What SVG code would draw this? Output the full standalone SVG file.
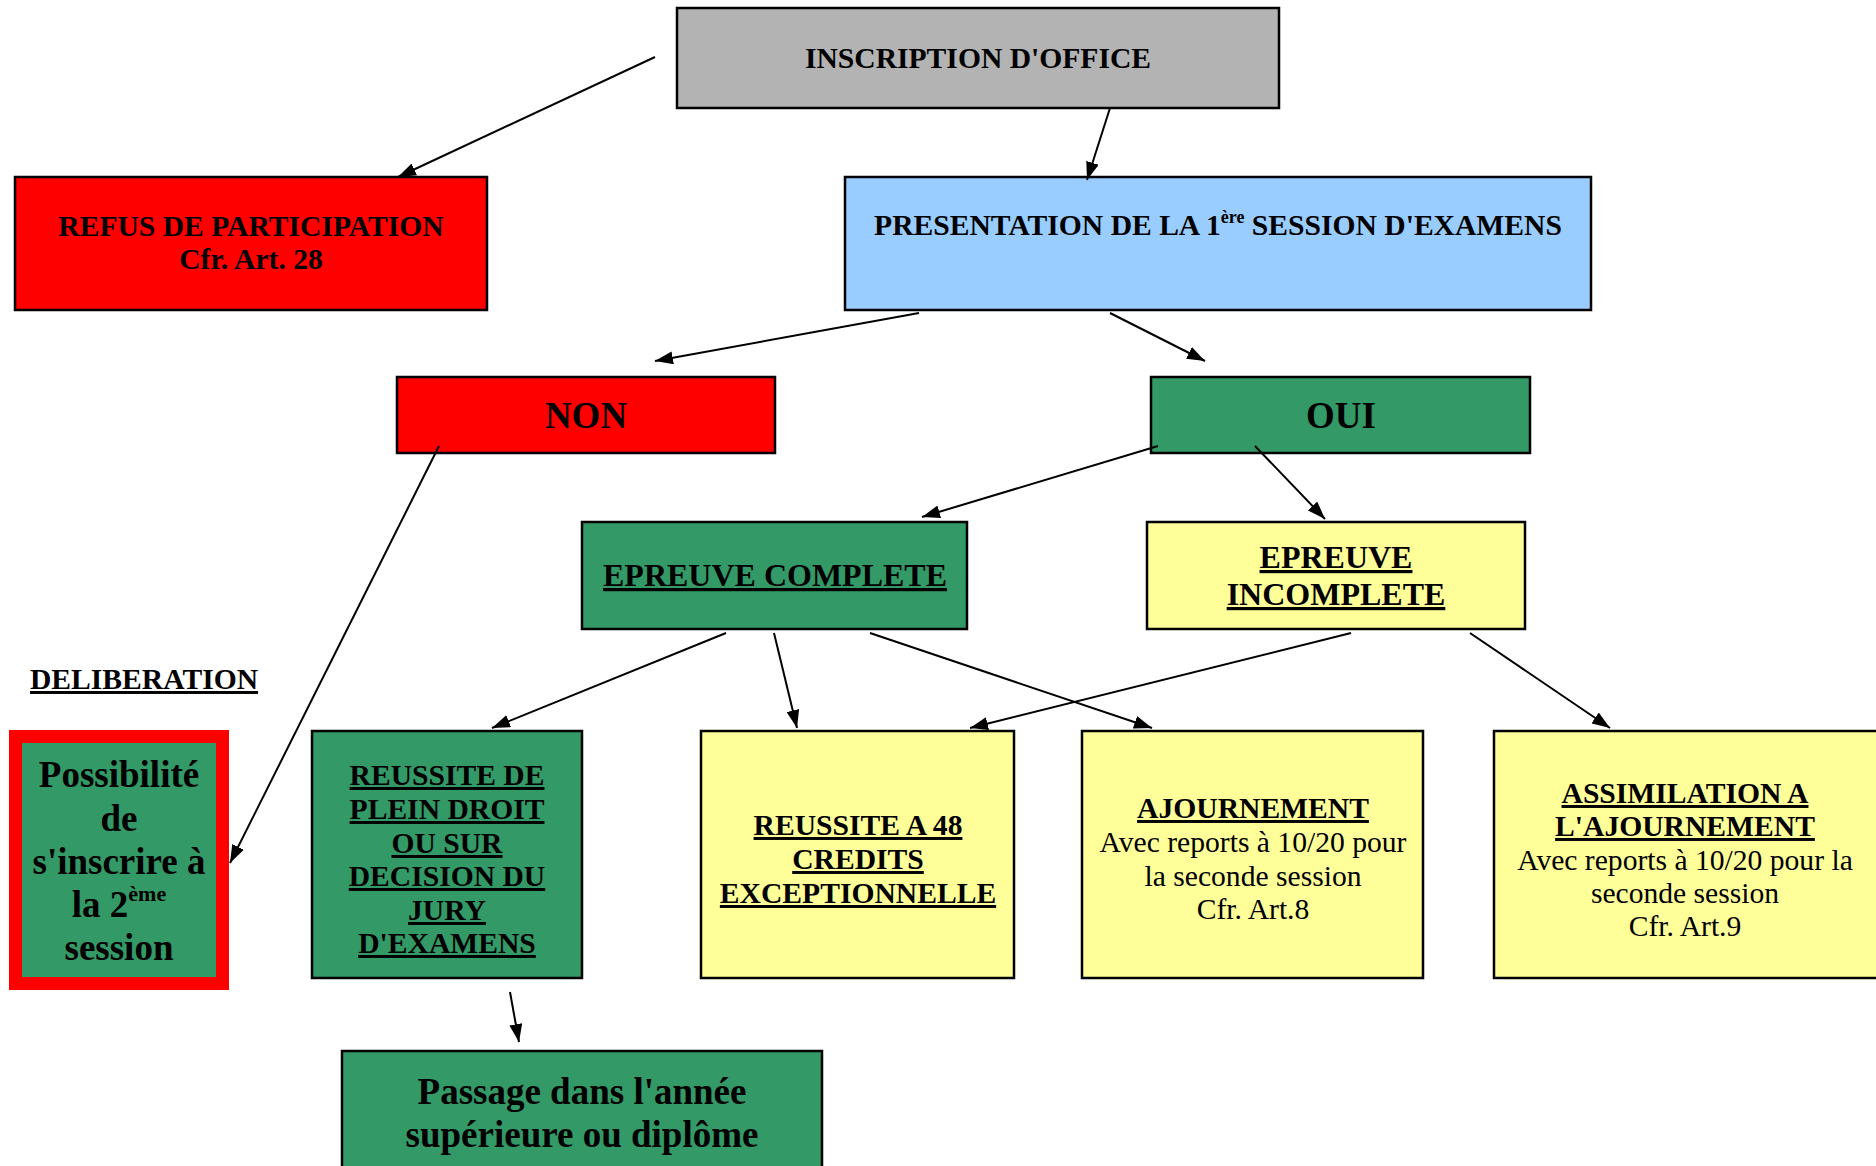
<svg xmlns="http://www.w3.org/2000/svg" width="1876" height="1166" viewBox="0 0 1876 1166">
<defs>
<marker id="ah" viewBox="0 0 18 13" refX="18" refY="6.5" markerWidth="18" markerHeight="13" markerUnits="userSpaceOnUse" orient="auto">
<path d="M0,0 L18,6.5 L0,13 z" fill="#000"/>
</marker>
<style>
.box{stroke:#000;stroke-width:2.5}
.gray{fill:#b3b3b3}.blue{fill:#99ccff}.red{fill:#ff0000}.green{fill:#339966}.yellow{fill:#ffff99}
text{font-family:"Liberation Serif","Times New Roman",serif;fill:#000}
.b{font-weight:bold}
.c{text-anchor:middle}
.s29{font-size:29.6px}.s32{font-size:32px}.s37{font-size:37px}.s36{font-size:37px}
.u{text-decoration:underline;text-decoration-thickness:3px;text-underline-offset:4px}
.conn line{stroke:#000;stroke-width:2;marker-end:url(#ah)}
</style>
</defs>
<rect width="1876" height="1166" fill="#fff"/>

<g id="inscription">
<rect class="box gray" x="677" y="8" width="602" height="100"/>
<text class="b c s29" x="978" y="68">INSCRIPTION D'OFFICE</text>
</g>

<g id="refus">
<rect class="box red" x="15" y="177" width="472" height="133"/>
<text class="b c s29" x="251" y="236">REFUS DE PARTICIPATION</text>
<text class="b c s29" x="251" y="269">Cfr. Art. 28</text>
</g>

<g id="presentation">
<rect class="box blue" x="845" y="177" width="746" height="133"/>
<text class="b c s29" x="1218" y="235">PRESENTATION DE LA 1<tspan font-size="18" dy="-12">ère</tspan><tspan dy="12"> SESSION D'EXAMENS</tspan></text>
</g>

<g id="non">
<rect class="box red" x="397" y="377" width="378" height="76"/>
<text class="b c s37" x="586" y="428">NON</text>
</g>

<g id="oui">
<rect class="box green" x="1151" y="377" width="379" height="76"/>
<text class="b c s37" x="1341" y="428">OUI</text>
</g>

<g id="epreuve-complete">
<rect class="box green" x="582" y="522" width="385" height="107"/>
<text class="b c s32 u" x="775" y="586">EPREUVE COMPLETE</text>
</g>

<g id="epreuve-incomplete">
<rect class="box yellow" x="1147" y="522" width="378" height="107"/>
<text class="b c s32 u" x="1336" y="568">EPREUVE</text>
<text class="b c s32 u" x="1336" y="605">INCOMPLETE</text>
</g>

<g id="deliberation">
<text class="b s29 u" x="30" y="689">DELIBERATION</text>
</g>

<g id="possibilite">
<rect x="15.5" y="736.5" width="207" height="247" fill="#339966" stroke="#ff0000" stroke-width="13"/>
<text class="b c s36" x="119" y="787">Possibilité</text>
<text class="b c s36" x="119" y="831">de</text>
<text class="b c s36" x="119" y="874">s'inscrire à</text>
<text class="b c s36" x="119" y="917">la 2<tspan font-size="22" dy="-16">ème</tspan></text>
<text class="b c s36" x="119" y="960">session</text>
</g>

<g id="reussite-plein-droit">
<rect class="box green" x="312" y="731" width="270" height="247"/>
<text class="b c s29 u" x="447" y="785">REUSSITE DE</text>
<text class="b c s29 u" x="447" y="819">PLEIN DROIT</text>
<text class="b c s29 u" x="447" y="853">OU SUR</text>
<text class="b c s29 u" x="447" y="886">DECISION DU</text>
<text class="b c s29 u" x="447" y="920">JURY</text>
<text class="b c s29 u" x="447" y="953">D'EXAMENS</text>
</g>

<g id="reussite-48">
<rect class="box yellow" x="701" y="731" width="313" height="247"/>
<text class="b c s29 u" x="858" y="835">REUSSITE A 48</text>
<text class="b c s29 u" x="858" y="869">CREDITS</text>
<text class="b c s29 u" x="858" y="903">EXCEPTIONNELLE</text>
</g>

<g id="ajournement">
<rect class="box yellow" x="1082" y="731" width="341" height="247"/>
<text class="b c s29 u" x="1253" y="818">AJOURNEMENT</text>
<text class="c s29" x="1253" y="852">Avec reports à 10/20 pour</text>
<text class="c s29" x="1253" y="886">la seconde session</text>
<text class="c s29" x="1253" y="919">Cfr. Art.8</text>
</g>

<g id="assimilation">
<rect class="box yellow" x="1494" y="731" width="390" height="247"/>
<text class="b c s29 u" x="1685" y="803">ASSIMILATION A</text>
<text class="b c s29 u" x="1685" y="836">L'AJOURNEMENT</text>
<text class="c s29" x="1685" y="870">Avec reports à 10/20 pour la</text>
<text class="c s29" x="1685" y="903">seconde session</text>
<text class="c s29" x="1685" y="936">Cfr. Art.9</text>
</g>

<g id="passage">
<rect class="box green" x="342" y="1051" width="480" height="125"/>
<text class="b c s37" x="582" y="1104">Passage dans l'année</text>
<text class="b c s37" x="582" y="1147">supérieure ou diplôme</text>
</g>

<g id="connectors" class="conn">
<line x1="655" y1="57" x2="398" y2="177"/>
<line x1="1110" y1="108" x2="1087" y2="180"/>
<line x1="919" y1="313" x2="655" y2="361"/>
<line x1="1110" y1="313" x2="1205" y2="361"/>
<line x1="439" y1="446" x2="230" y2="863"/>
<line x1="1158" y1="446" x2="922" y2="517"/>
<line x1="1255" y1="446" x2="1325" y2="519"/>
<line x1="726" y1="633" x2="492" y2="728"/>
<line x1="774" y1="633" x2="797" y2="728"/>
<line x1="870" y1="633" x2="1152" y2="728"/>
<line x1="1351" y1="633" x2="970" y2="728"/>
<line x1="1470" y1="633" x2="1610" y2="728"/>
<line x1="510" y1="992" x2="519" y2="1042"/>
</g>
</svg>
